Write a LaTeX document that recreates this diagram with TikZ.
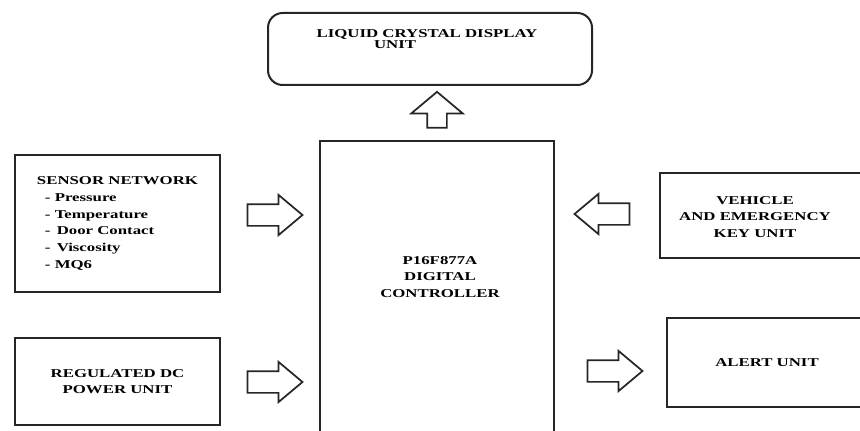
\documentclass[tikz,border=0pt]{standalone}
\usepackage{fontspec}
\newfontfamily\blockfont{Liberation Serif}[FakeStretch=1.4]
\usetikzlibrary{shapes.arrows}

\tikzset{
  block/.style={draw=black!85,line width=1.5pt,inner sep=0pt,align=center,
    font=\blockfont\bfseries\fontsize{9}{12.5}\selectfont},
  btext/.style={inner sep=0pt,align=center,
    font=\blockfont\bfseries\fontsize{9}{12.5}\selectfont},
  hollow/.style={single arrow,draw=black!85,line width=1.3pt,fill=white,
    inner xsep=0pt,inner ysep=7.5pt,single arrow head extend=7pt,
    single arrow tip angle=80,minimum height=41.25pt}
}

\begin{document}
\begin{tikzpicture}[x=0.75pt,y=-0.75pt]

\useasboundingbox (0,0) rectangle (860,431);
\clip (0,0) rectangle (860,431);

% display on top
\node[block,rounded corners=11pt,minimum width=243pt,minimum height=54pt] (lcd) at (430,49) {};
\node[btext,align=left,font=\blockfont\bfseries\fontsize{9}{8.5}\selectfont] (lcdtxt) at (427,39)
  {LIQUID CRYSTAL DISPLAY\\\hspace*{43pt}UNIT};

% controller
\node[block,minimum width=175.5pt,minimum height=231.75pt] (mcu) at (437,295.5) {};
\node[btext] (mcutxt) at (440,277) {P16F877A\\DIGITAL\\CONTROLLER};

% inputs
\node[block,align=left,minimum width=153.75pt,minimum height=102.75pt] (sensor) at (117.5,223.5)
  {SENSOR NETWORK\\
   \hspace*{6pt}- Pressure\\
   \hspace*{6pt}- Temperature\\
   \hspace*{6pt}- \,Door Contact\\
   \hspace*{6pt}- \,Viscosity\\
   \hspace*{6pt}- MQ6};
\node[block,minimum width=153.75pt,minimum height=65.25pt] (power) at (117.5,381.5)
  {REGULATED DC\\POWER UNIT};

% right side
\node[block,minimum width=165pt,minimum height=63.75pt] (vehicle) at (770,215.5) {};
\node[btext] (vehtxt) at (755,217) {VEHICLE\\AND EMERGENCY\\KEY UNIT};
\node[block,minimum width=159.75pt,minimum height=66.75pt] (alert) at (773.5,362.5) {};
\node[btext] (alerttxt) at (767,363) {ALERT UNIT};

% block arrows
\node[hollow] (senarr) at (268.5,215) {};
\node[hollow] (pwrarr) at (268.5,382) {};
\node[hollow] (alrarr) at (608.5,371) {};
\node[hollow,shape border rotate=180] (veharr) at (608.5,214) {};
\node[hollow,shape border rotate=90,minimum height=27pt,inner xsep=6.75pt,inner ysep=0pt,
  single arrow head extend=12pt,single arrow tip angle=100] (lcdarr) at (437,114) {};

\end{tikzpicture}
\end{document}
